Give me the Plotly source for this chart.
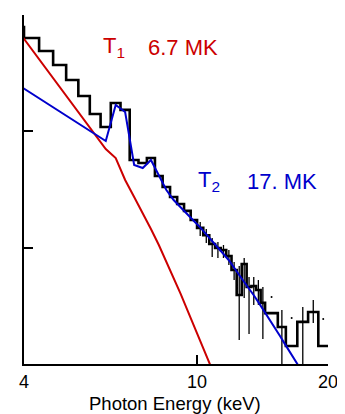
import plotly.graph_objects as go

# ---- data ----
# histogram bin edges (keV) and observed values
bin_edges = [3.667, 4.0, 4.333, 4.667, 5.0, 5.333, 5.667, 6.0, 6.333, 6.667, 7.0,
             7.333, 7.667, 8.0, 8.333, 8.667, 9.0, 9.333, 9.667, 10.0, 10.333,
             10.667, 11.0, 11.333, 11.667, 12.0, 12.333, 12.667, 13.0, 13.333,
             13.667, 14.0, 14.333, 15.333, 16.0, 17.0, 18.0, 19.0, 20.0]
counts = [7.88, 6.34, 4.90, 3.72, 2.76, 2.01, 1.41, 1.09, 1.75, 1.53, 0.567,
          0.534, 0.590, 0.413, 0.332, 0.273, 0.237, 0.207, 0.173, 0.148, 0.128,
          0.1075, 0.0993, 0.0955, 0.0848, 0.0643, 0.0392, 0.0724, 0.0459, 0.0468,
          0.0433, 0.0335, 0.0274, 0.0208, 0.01428, 0.0230, 0.0280, 0.01428]

# error bars
err_energy = [10.167, 10.5, 10.833, 11.167, 11.5, 11.833, 12.167, 12.5, 12.833,
              13.167, 13.5, 13.833, 14.167, 15.667, 17.5, 18.5]
err_top = [0.1662, 0.1447, 0.1211, 0.1119, 0.1054, 0.0955, 0.0753, 0.0696, 0.0815,
           0.0560, 0.0560, 0.0527, 0.0459, 0.0291, 0.0309, 0.0355]
err_bottom = [0.1260, 0.1097, 0.0831, 0.0815, 0.0815, 0.0710, 0.0527, 0.01608, 0.0369,
              0.01811, 0.0322, 0.0322, 0.0164, 0.001, 0.001, 0.0225]
dot_energy = [14.833, 16.5, 19.5]
dot_value = [0.0377, 0.0249, 0.0244]

# model components at bin centres
model_energy = [3.833, 4.167, 4.5, 4.833, 5.167, 5.5, 5.833, 6.167, 6.5, 6.833,
                7.167, 7.5, 7.833, 8.167, 8.5, 8.833, 9.167, 9.5, 9.833, 10.167,
                10.5, 10.833, 11.167, 11.5, 11.833, 12.167, 12.5, 12.833, 13.167,
                13.5, 13.833, 14.167, 14.5, 14.833, 15.167, 15.5, 15.833, 16.167,
                16.5, 16.833, 17.167, 17.5]
model_T2 = [2.577, 2.110, 1.756, 1.481, 1.262, 1.085, 0.943, 0.826, 1.684, 1.466,
            0.5137, 0.4841, 0.567, 0.413, 0.313, 0.2568, 0.2237, 0.1967, 0.1695,
            0.1493, 0.1298, 0.1125, 0.0980, 0.0882, 0.0780, 0.0666, 0.0582, 0.0507,
            0.0446, 0.0390, 0.0340, 0.0297, 0.0259, 0.0227, 0.0199, 0.01748,
            0.01534, 0.01356, 0.01202, 0.01061, 0.00946, 0.00842]
model_T1 = [7.717, 5.062, 3.428, 2.381, 1.697, 1.234, 0.917, 0.705, 0.590, 0.3817,
            0.2726, 0.1986, 0.1447, 0.1054, 0.0759, 0.0550, 0.0400, 0.0291, 0.0213,
            0.01576, 0.01183, 0.00893, 0.00680]

x_ticks = [4, 10, 20]
x_tick_labels = ["4", "10", "20"]
y_ticks = [0.01, 0.1, 1, 10]

RED = "#cc0000"
BLUE = "#0000cc"
FONT = "Liberation Sans, Arial, sans-serif"

fig = go.Figure()

# histogram (step)
fig.add_trace(go.Scatter(x=bin_edges, y=counts + [counts[-1]], mode="lines",
                         line=dict(color="black", width=2.6, shape="hv"),
                         hoverinfo="skip"))

# error bars as segments
ex, ey = [], []
for e, t, b in zip(err_energy, err_top, err_bottom):
    ex += [e, e, None]
    ey += [b, t, None]
fig.add_trace(go.Scatter(x=ex, y=ey, mode="lines",
                         line=dict(color="black", width=1.3), hoverinfo="skip"))
fig.add_trace(go.Scatter(x=dot_energy, y=dot_value, mode="markers",
                         marker=dict(color="black", size=2), hoverinfo="skip"))

# model components
fig.add_trace(go.Scatter(x=model_energy[:len(model_T1)], y=model_T1, mode="lines",
                         line=dict(color=RED, width=2), hoverinfo="skip"))
fig.add_trace(go.Scatter(x=model_energy, y=model_T2, mode="lines",
                         line=dict(color=BLUE, width=2), hoverinfo="skip"))

# page body has an 8px margin: figure is sized/offset to land on the reference pixels
fig.update_layout(
    width=337, height=406,
    margin=dict(l=16, r=14, t=7, b=50),
    paper_bgcolor="white", plot_bgcolor="white",
    showlegend=False,
    font=dict(family=FONT, color="black"),
    xaxis=dict(type="log", range=[0.60206, 1.30103], showgrid=False, zeroline=False,
               showline=True, linecolor="black", linewidth=2,
               ticks="inside", ticklen=9, tickwidth=2, tickcolor="black",
               tickvals=x_ticks, ticktext=x_tick_labels, ticklabeloverflow="allow",
               tickfont=dict(size=18, family=FONT)),
    yaxis=dict(type="log", range=[-2, 1], showgrid=False, zeroline=False,
               showline=True, linecolor="black", linewidth=2,
               ticks="inside", ticklen=9, tickwidth=2, tickcolor="black",
               tickvals=y_ticks, showticklabels=False),
    annotations=[
        dict(text="Photon Energy (keV)", xref="paper", yref="paper", x=0.4967, y=-0.112,
             xanchor="center", yanchor="middle", showarrow=False,
             font=dict(size=18.5, family=FONT, color="black")),
        dict(text="T<sub>1</sub>", xref="paper", yref="paper", x=0.254, y=0.907,
             xanchor="left", yanchor="middle", showarrow=False,
             font=dict(size=22, family=FONT, color=RED)),
        dict(text="6.7 MK", xref="paper", yref="paper", x=0.401, y=0.907,
             xanchor="left", yanchor="middle", showarrow=False,
             font=dict(size=22, family=FONT, color=RED)),
        dict(text="T<sub>2</sub>", xref="paper", yref="paper", x=0.567, y=0.523,
             xanchor="left", yanchor="middle", showarrow=False,
             font=dict(size=22, family=FONT, color=BLUE)),
        dict(text="17. MK", xref="paper", yref="paper", x=0.726, y=0.523,
             xanchor="left", yanchor="middle", showarrow=False,
             font=dict(size=22, family=FONT, color=BLUE)),
    ],
)

fig.write_html("out.html")
